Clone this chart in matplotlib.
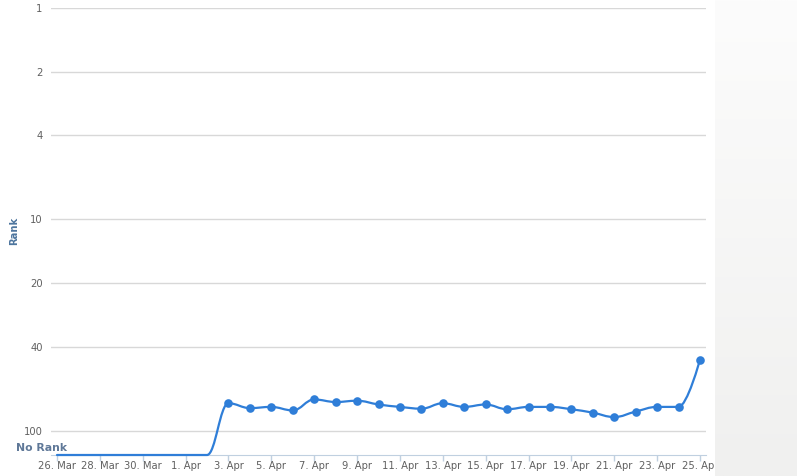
import matplotlib.pyplot as plt
import numpy as np
from matplotlib.path import Path
from matplotlib.patches import PathPatch
from matplotlib.ticker import NullLocator
from matplotlib.transforms import blended_transform_factory, offset_copy

NO_RANK = 130  # value used to draw "No Rank" at the bottom of the axis

days = ['26. Mar', '27. Mar', '28. Mar', '29. Mar', '30. Mar', '31. Mar',
        '1. Apr', '2. Apr', '3. Apr', '4. Apr', '5. Apr', '6. Apr', '7. Apr',
        '8. Apr', '9. Apr', '10. Apr', '11. Apr', '12. Apr', '13. Apr',
        '14. Apr', '15. Apr', '16. Apr', '17. Apr', '18. Apr', '19. Apr',
        '20. Apr', '21. Apr', '22. Apr', '23. Apr', '24. Apr', '25. Apr']
ranks = [130, 130, 130, 130, 130, 130, 130, 130,
         74, 78, 77, 80, 71, 73, 72, 75, 77, 78.5, 74, 77, 75, 79, 77, 77,
         79, 82, 86, 81, 77, 77, 46]

ytick_vals = [1, 2, 4, 10, 20, 40, 100]
ytick_labels = ['1', '2', '4', '10', '20', '40', '100']

LINE = '#2f7ed8'
LABEL = '#606060'


def spline_path(xs, ys, smoothing=1.5):
    # highcharts-style spline control points, done in (x, log y) space
    ly = np.log10(ys)
    n = len(xs)
    lc = [(xs[i], ly[i]) for i in range(n)]
    rc = [(xs[i], ly[i]) for i in range(n)]
    d = smoothing + 1
    for i in range(1, n - 1):
        px, py = xs[i], ly[i]
        lx, lyy = xs[i - 1], ly[i - 1]
        nx, ny = xs[i + 1], ly[i + 1]
        lcx = (smoothing * px + lx) / d
        lcy = (smoothing * py + lyy) / d
        rcx = (smoothing * px + nx) / d
        rcy = (smoothing * py + ny) / d
        corr = (rcy - lcy) * (rcx - px) / (rcx - lcx) + py - rcy
        lcy += corr
        rcy += corr
        if lcy > lyy and lcy > py:
            lcy = max(lyy, py)
            rcy = 2 * py - lcy
        elif lcy < lyy and lcy < py:
            lcy = min(lyy, py)
            rcy = 2 * py - lcy
        if rcy > ny and rcy > py:
            rcy = max(ny, py)
            lcy = 2 * py - rcy
        elif rcy < ny and rcy < py:
            rcy = min(ny, py)
            lcy = 2 * py - rcy
        lc[i] = (lcx, lcy)
        rc[i] = (rcx, rcy)
    verts = [(xs[0], ly[0])]
    codes = [Path.MOVETO]
    for i in range(1, n):
        verts += [rc[i - 1], lc[i], (xs[i], ly[i])]
        codes += [Path.CURVE4] * 3
    verts = [(vx, 10 ** vy) for vx, vy in verts]
    return Path(verts, codes)


x = np.arange(len(days))
r = np.array(ranks, dtype=float)

fig = plt.figure(figsize=(7.97, 4.76), dpi=100)
W, H = 797, 476
ax = fig.add_axes([51 / W, (H - 455) / H, 655 / W, 447 / H])

ax.set_yscale('log')
ax.set_ylim(NO_RANK, 1)
ax.set_xlim(-6 / 21.43, len(days) - 1 + 6 / 21.43)
ax.set_yticks(ytick_vals)
ax.set_yticklabels(ytick_labels)
ax.yaxis.set_minor_locator(NullLocator())
ax.set_xticks(x[::2])
ax.set_xticklabels(days[::2])

ax.grid(axis='y', color='#d8d8d8', lw=1)
ax.set_axisbelow(True)
for s in ['top', 'right', 'left']:
    ax.spines[s].set_visible(False)
ax.spines['bottom'].set_color('#c0d0e0')
ax.tick_params(axis='y', length=0, pad=6, labelsize=7.2, labelcolor=LABEL)
ax.tick_params(axis='x', length=4, width=1, color='#c0d0e0', pad=0,
               labelsize=7.2, labelcolor=LABEL)

patch = PathPatch(spline_path(x, r), fill=False, edgecolor=LINE, lw=1.6,
                  capstyle='round', joinstyle='round', clip_on=False, zorder=3)
ax.add_patch(patch)
ranked = r < NO_RANK
ax.plot(x[ranked], r[ranked], 'o', color=LINE, markersize=6.2,
        markeredgewidth=0, clip_on=False, zorder=4)

tr = blended_transform_factory(ax.transAxes, ax.transData)
ax.text(16 / 655, NO_RANK, 'No Rank', transform=offset_copy(tr, fig=fig, y=1.5, units='points'),
        ha='right', va='bottom', fontsize=7.8, fontweight='bold', color='#5f7898')
fig.text(14 / W, 1 - 231 / H, 'Rank', rotation=90, ha='center', va='center',
         fontsize=7.2, fontweight='bold', color='#4d759e')

# grey panel at the right edge
pan = fig.add_axes([715 / W, 0, 82 / W, 1], zorder=5)
grad = np.linspace(0, 1, 200).reshape(-1, 1)
pan.imshow(grad, cmap=plt.matplotlib.colors.LinearSegmentedColormap.from_list(
    'p', ['#fcfcfc', '#f0f0ef']), aspect='auto', extent=[0, 1, 0, 1], origin='upper')
pan.set_axis_off()

fig.savefig('out.png', dpi=100)
